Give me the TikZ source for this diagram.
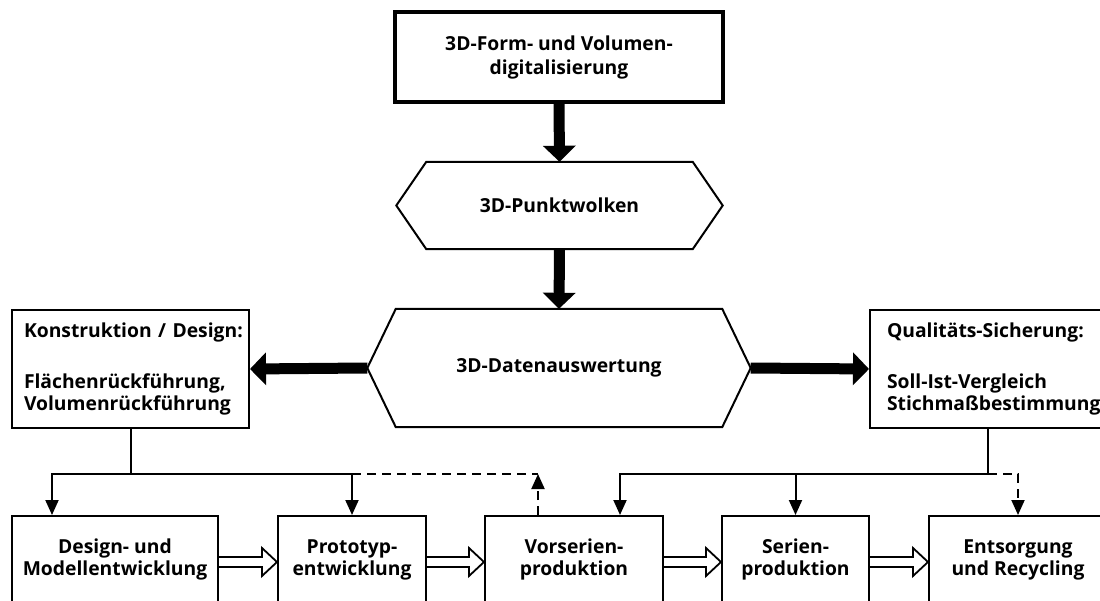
\documentclass[tikz,border=0pt]{standalone}
\usepackage{fontspec}
\setmainfont{Open Sans}
\usetikzlibrary{arrows.meta,calc}
\begin{document}
\begin{tikzpicture}[x=1pt,y=-1pt,
  every node/.style={font=\bfseries\fontsize{19.3}{22}\selectfont, inner sep=0pt},
  box/.style={draw, line width=2pt},
  topbox/.style={draw, line width=3.5pt, align=center},
  lbox/.style={box, align=left, anchor=north west},
  cbox/.style={box, align=center},
  hexbody/.style={align=center},
  hexline/.style={line width=2pt, line join=miter},
  bigarrow/.style={line width=11pt, -{Triangle[length=16pt,width=32pt]}},
  thinarrow/.style={line width=2pt, -{Triangle[length=15pt,width=13pt]}},
  thinline/.style={line width=2pt},
  dashline/.style={line width=2pt, dash pattern=on 9pt off 6pt},
  dasharrow/.style={dashline, -{Triangle[length=15pt,width=13pt]}},
  hollow/.style={line width=1.8pt, fill=white, line join=miter}
]
\useasboundingbox (0,0) rectangle (1100,601);

% top box
\node[topbox, minimum width=328pt, minimum height=90pt] (top) at (559,57)
  {3D-Form- und Volumen-\\[2pt]digitalisierung};

% hexagon 1
\node[hexbody, minimum width=266pt, minimum height=87pt] (hex1) at (559.5,205.5) {3D-Punktwolken};
\coordinate (hex1L) at ($(hex1.west)+(-30,0)$);
\coordinate (hex1R) at ($(hex1.east)+(30,0)$);
\draw[hexline] (hex1.north west) -- (hex1.north east) -- (hex1R) -- (hex1.south east)
  -- (hex1.south west) -- (hex1L) -- cycle;

% hexagon 2
\node[hexbody, minimum width=326pt, minimum height=118pt] (hex2) at (559,368) {3D-Datenauswertung};
\coordinate (hex2L) at ($(hex2.west)+(-28.5,0)$);
\coordinate (hex2R) at ($(hex2.east)+(28.5,0)$);
\draw[hexline] (hex2.north west) -- (hex2.north east) -- (hex2R) -- (hex2.south east)
  -- (hex2.south west) -- (hex2L) -- cycle;

% side boxes
\node[lbox, minimum width=237pt, minimum height=118pt, text width=213pt, inner xsep=12pt] (left) at (11,309)
  {\mbox{Konstruktion / Design:}\\[29pt]Flächenrückführung,\\Volumenrückführung};
\node[lbox, minimum width=251pt, minimum height=118pt, text width=217pt, inner xsep=17pt] (right) at (869,309)
  {\mbox{Qualitäts-Sicherung:}\\[29pt]\mbox{Soll-Ist-Vergleich}\\Stichmaßbestimmung};

% bottom boxes
\node[cbox, minimum width=206pt, minimum height=87pt] (b1) at (115,559.5) {Design- und\\Modellentwicklung};
\node[cbox, minimum width=148pt, minimum height=87pt] (b2) at (352,559.5) {Prototyp-\\entwicklung};
\node[cbox, minimum width=178pt, minimum height=87pt] (b3) at (574,559.5) {Vorserien-\\produktion};
\node[cbox, minimum width=147pt, minimum height=87pt] (b4) at (795.5,559.5) {Serien-\\produktion};
\node[cbox, minimum width=178pt, minimum height=87pt] (b5) at (1018,559.5) {Entsorgung\\und Recycling};

% thick arrows
\draw[bigarrow] (top.south) -- (hex1.north);
\draw[bigarrow] (hex1.south) -- (hex2.north);
\draw[bigarrow] (hex2L) -- (left.east);
\draw[bigarrow] (hex2R) -- (right.west);

% left distribution
\coordinate (lbus) at ($(left.south)+(0,45)$);
\coordinate (b1in) at ($(b1.north west)+(41,0)$);
\coordinate (b3up) at ($(b3.north west)+(54,0)$);
\draw[thinline] (left.south) -- (lbus);
\draw[thinarrow] (lbus) -| (b1in);
\draw[thinarrow] (lbus) -| (b2.north);
\draw[dashline] (b2.north |- lbus) -- (b3up |- lbus);
\draw[dasharrow] (b3up) -- (b3up |- lbus);

% right distribution
\coordinate (rstem) at ($(right.south west)+(119,0)$);
\coordinate (rbus) at ($(rstem)+(0,45)$);
\coordinate (b3in) at ($(b3.north west)+(136,0)$);
\draw[thinline] (rstem) -- (rbus);
\draw[thinarrow] (rbus) -| (b3in);
\draw[thinarrow] (rbus) -| (b4.north);
\draw[dasharrow] (rbus) -| (b5.north);

% hollow arrows
\foreach \a/\b in {b1/b2, b2/b3, b3/b4, b4/b5}{
  \draw[hollow] ($(\a.east)+(0,-2.5)$) -- ($(\b.west)+(-15,-2.5)$) -- ($(\b.west)+(-15,-11.5)$)
    -- ($(\b.west)+(0,2.5)$) -- ($(\b.west)+(-15,16.5)$) -- ($(\b.west)+(-15,7.5)$)
    -- ($(\a.east)+(0,7.5)$);
}
\end{tikzpicture}
\end{document}
